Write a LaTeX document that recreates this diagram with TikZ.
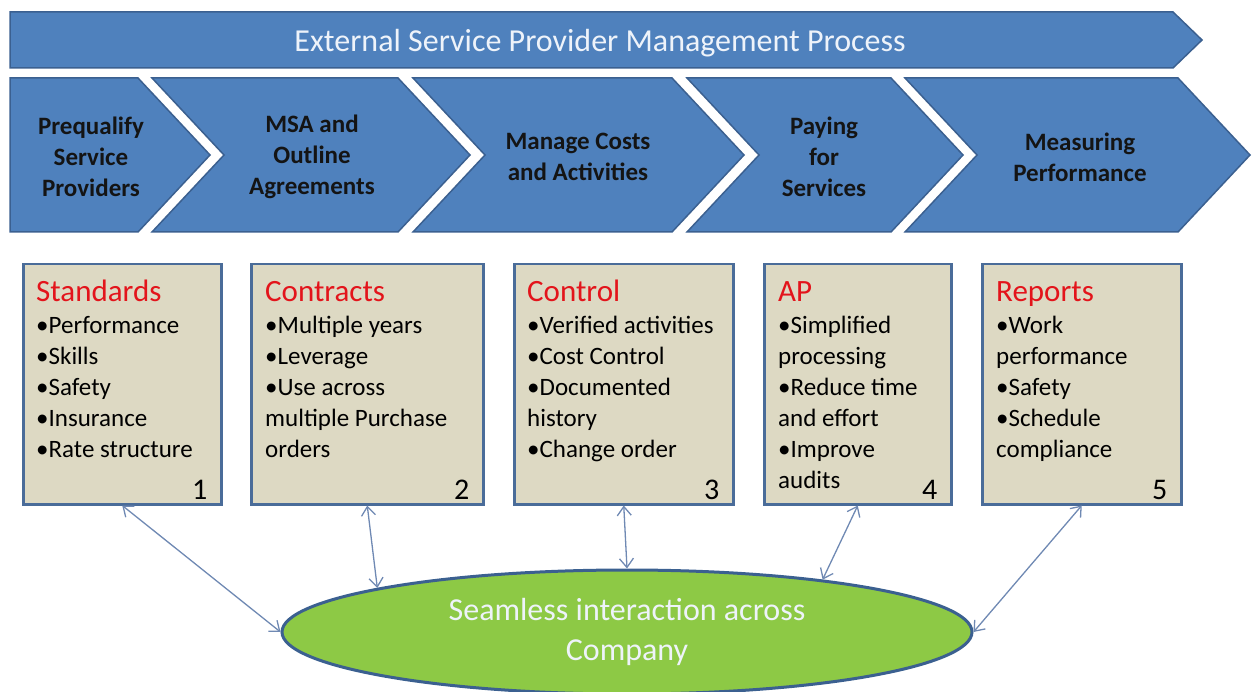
\documentclass[tikz,border=0pt]{standalone}
\usepackage{fontspec}
\setmainfont{Carlito}
\usetikzlibrary{shapes.geometric, arrows.meta, positioning}
\definecolor{stepblue}{HTML}{4F81BD}
\definecolor{stepedge}{HTML}{3B6090}
\definecolor{boxtan}{HTML}{DDD9C3}
\definecolor{boxedge}{HTML}{4A6C99}
\definecolor{linkblue}{HTML}{6F89B3}
\definecolor{blobgreen}{HTML}{8DC945}
\definecolor{headred}{HTML}{E3141B}
\definecolor{paletext}{HTML}{EEF3FA}
\newcommand\bu{\textbullet}

\begin{document}
\begin{tikzpicture}[x=1pt, y=-1pt,
  chev/.style={fill=stepblue, draw=stepedge, line width=1.5pt, line join=miter},
  chevtext/.style={align=center, inner sep=0, font=\fontsize{25}{31}\selectfont\bfseries, text=black!92},
  tanbox/.style={draw=boxedge, fill=boxtan, line width=2.5pt, anchor=north west, inner sep=0, minimum height=240pt, minimum width=#1},
  head/.style={anchor=base west, inner sep=0, text=headred, font=\fontsize{31}{31}\selectfont},
  items/.style={anchor=base west, inner sep=0, align=left, font=\fontsize{25}{31}\selectfont},
  num/.style={anchor=base east, inner sep=0, font=\fontsize{30}{30}\selectfont},
  link/.style={draw=linkblue, line width=1.3pt, {Straight Barb[length=9pt,width=14pt]}-{Straight Barb[length=9pt,width=14pt]}}]
\useasboundingbox (0,0) rectangle (1252,692);

% banner
\filldraw[chev] (10,12) -- (1173,12) -- (1202,40) -- (1173,68) -- (10,68) -- cycle;
\node[inner sep=0, text=paletext, font=\fontsize{32}{32}\selectfont] (title) at (600,43) {External Service Provider Management Process};

% process steps
\filldraw[chev] (10,78) -- (138,78) -- (210,155) -- (138,232) -- (10,232) -- cycle;
\filldraw[chev] (152,78) -- (398,78) -- (470,155) -- (398,232) -- (152,232) -- (224,155) -- cycle;
\filldraw[chev] (413,78) -- (672,78) -- (744,155) -- (672,232) -- (413,232) -- (485,155) -- cycle;
\filldraw[chev] (687,78) -- (891,78) -- (963,155) -- (891,232) -- (687,232) -- (759,155) -- cycle;
\filldraw[chev] (905,78) -- (1178,78) -- (1250,155) -- (1178,232) -- (905,232) -- (977,155) -- cycle;
\node[chevtext] (s1) at (91,157) {Prequalify\\Service\\Providers};
\node[chevtext] (s2) at (312,157) {MSA and\\Outline\\Agreements};
\node[chevtext] (s3) at (578,157) {Manage Costs\\and Activities};
\node[chevtext] (s4) at (824,157) {Paying\\for\\Services};
\node[chevtext] (s5) at (1080,157) {Measuring\\Performance};

% detail boxes (items placed by the baseline of their last line)
\node[tanbox=198pt] (box1) at (22,263) {};
\node[tanbox=232pt] (box2) at (250,263) {};
\node[tanbox=219pt] (box3) at (513,263) {};
\node[tanbox=187pt] (box4) at (763,263) {};
\node[tanbox=199pt] (box5) at (981,263) {};

\node[head] (h1) at (36,302) {Standards};
\node[items] (l1) at (36,457) {\bu Performance\\\bu Skills\\\bu Safety\\\bu Insurance\\\bu Rate structure};
\node[num] (n1) at ([shift={(-15pt,6pt)}]box1.south east) {1};

\node[head] (h2) at (265,302) {Contracts};
\node[items] (l2) at (265,457) {\bu Multiple years\\\bu Leverage\\\bu Use across\\multiple Purchase\\orders};
\node[num] (n2) at ([shift={(-15pt,6pt)}]box2.south east) {2};

\node[head] (h3) at (527,302) {Control};
\node[items] (l3) at (527,457) {\bu Verified activities\\\bu Cost Control\\\bu Documented\\history\\\bu Change order};
\node[num] (n3) at ([shift={(-15pt,6pt)}]box3.south east) {3};

\node[head] (h4) at (778,302) {AP};
\node[items] (l4) at (778,488) {\bu Simplified\\processing\\\bu Reduce time\\and effort\\\bu Improve\\audits};
\node[num] (n4) at ([shift={(-15pt,6pt)}]box4.south east) {4};

\node[head] (h5) at (996,302) {Reports};
\node[items] (l5) at (996,457) {\bu Work\\performance\\\bu Safety\\\bu Schedule\\compliance};
\node[num] (n5) at ([shift={(-15pt,6pt)}]box5.south east) {5};

% company
\node[ellipse, draw=stepedge, line width=3pt, fill=blobgreen, minimum width=690pt, minimum height=124pt, inner sep=0,
  align=center, text=paletext, font=\fontsize{32}{40}\selectfont] (company) at (627,632) {Seamless interaction across\\Company};

\draw[link] (box1.south) -- (company.west);
\draw[link] (box2.south) -- (company.170);
\draw[link] (box3.south) -- (company.north);
\draw[link] (box4.south) -- (company.15);
\draw[link] (box5.south) -- (company.east);
\end{tikzpicture}
\end{document}
